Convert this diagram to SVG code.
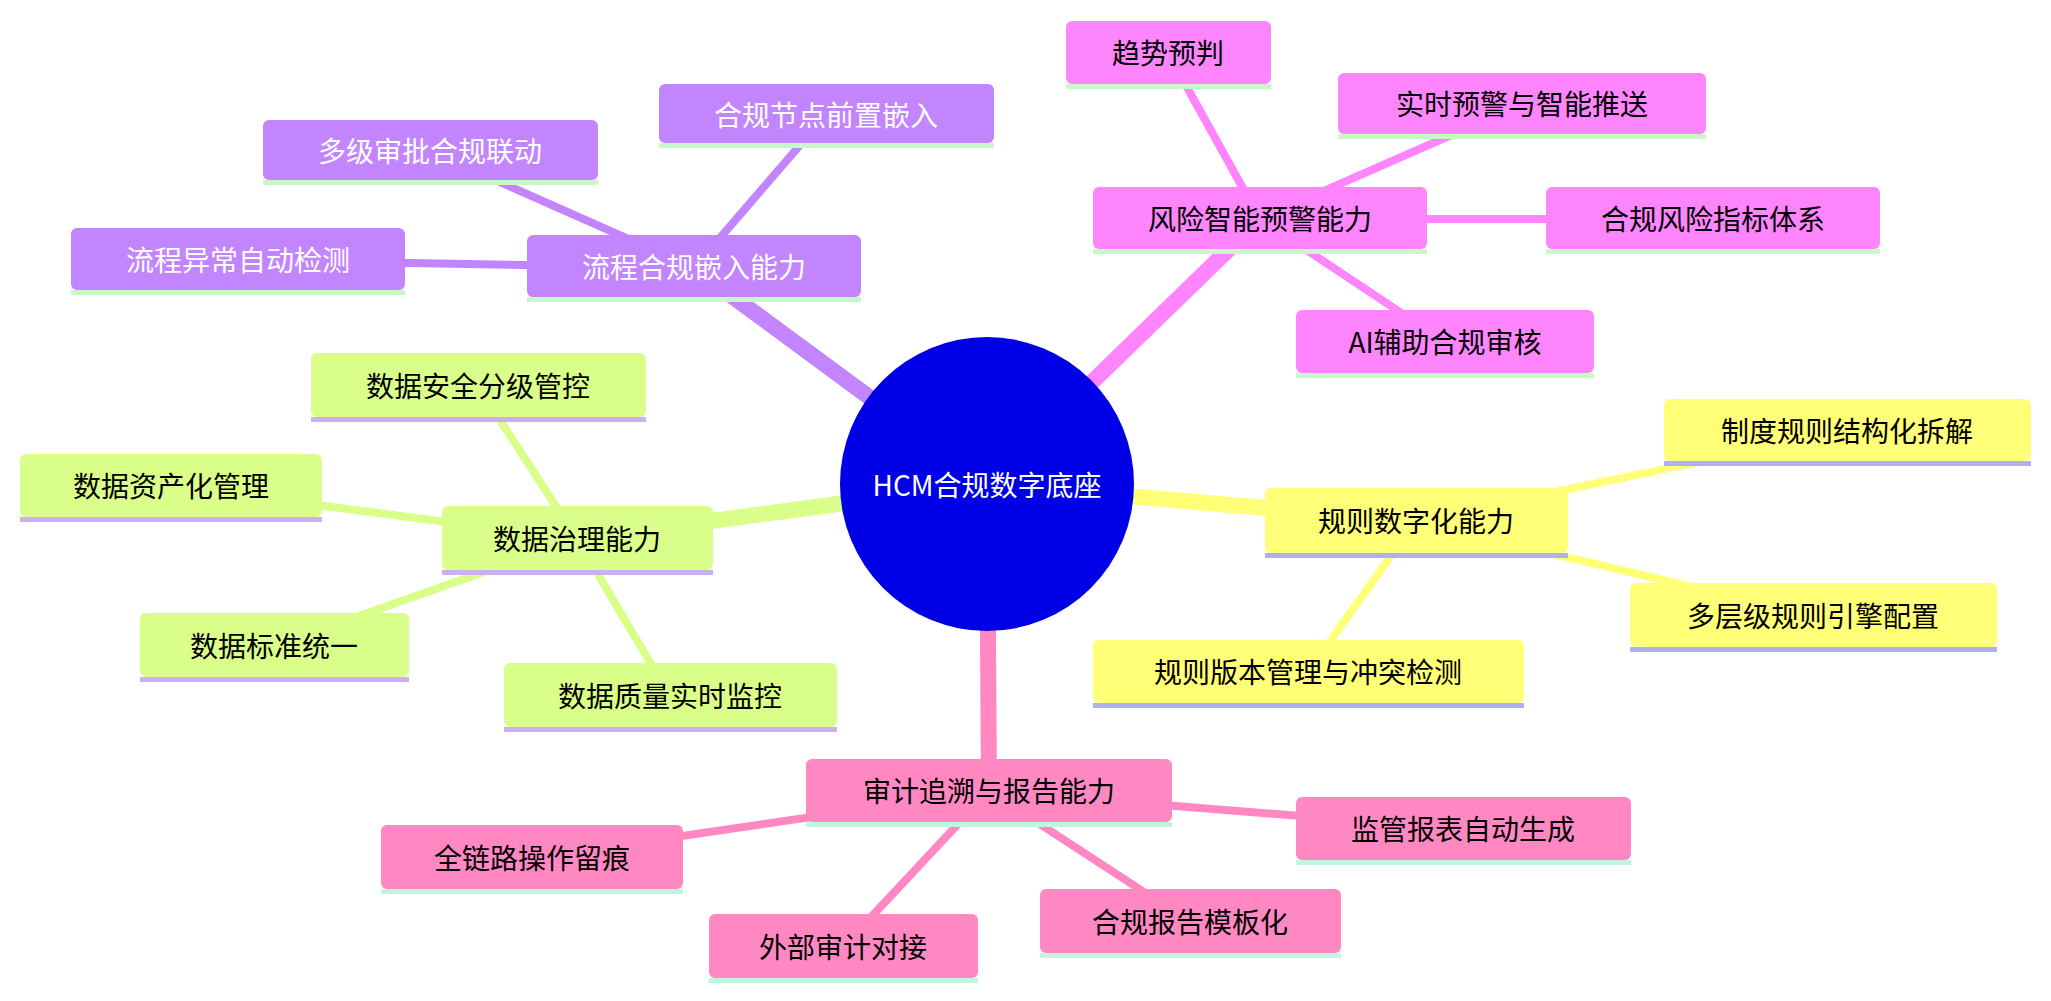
<svg xmlns="http://www.w3.org/2000/svg" width="2051" height="1001" viewBox="0 0 2051 1001">
<style>
text{font-family:"Noto Sans CJK SC","Noto Sans",sans-serif;font-size:28px;text-anchor:middle;dominant-baseline:central;fill:#000}
.s0 rect.b{fill:#c385fd}.s0 text{fill:#fff}.s0 rect.u{fill:#c8f8c8}
.s1 rect.b{fill:#ff85ff}.s1 rect.u{fill:#c8f8c8}
.s2 rect.b{fill:#ffff78}.s2 rect.u{fill:#b0b0f0}
.s3 rect.b{fill:#d9ff8a}.s3 rect.u{fill:#cbb0f0}
.s4 rect.b{fill:#ff88c3}.s4 rect.u{fill:#c0f5e0}
.e line{stroke-linecap:round}
</style>
<rect width="2051" height="1001" fill="#fff"/>
<g id="connectors" class="e">
<g stroke="#c385fd"><line x1="987" y1="484" x2="694" y2="268" stroke-width="16"/><line x1="694" y1="268" x2="826" y2="115" stroke-width="8"/><line x1="694" y1="268" x2="430" y2="151" stroke-width="8"/><line x1="694" y1="268" x2="238" y2="260" stroke-width="8"/></g>
<g stroke="#ff85ff"><line x1="987" y1="484" x2="1260" y2="219" stroke-width="16"/><line x1="1260" y1="219" x2="1168" y2="53" stroke-width="8"/><line x1="1260" y1="219" x2="1522" y2="104" stroke-width="8"/><line x1="1260" y1="219" x2="1713" y2="219" stroke-width="8"/><line x1="1260" y1="219" x2="1445" y2="342" stroke-width="8"/></g>
<g stroke="#ffff78"><line x1="987" y1="484" x2="1416" y2="521" stroke-width="16"/><line x1="1416" y1="521" x2="1847" y2="431" stroke-width="8"/><line x1="1416" y1="521" x2="1813" y2="616" stroke-width="8"/><line x1="1416" y1="521" x2="1308" y2="672" stroke-width="8"/></g>
<g stroke="#d9ff8a"><line x1="987" y1="484" x2="577" y2="539" stroke-width="16"/><line x1="577" y1="539" x2="478" y2="386" stroke-width="8"/><line x1="577" y1="539" x2="171" y2="486" stroke-width="8"/><line x1="577" y1="539" x2="274" y2="646" stroke-width="8"/><line x1="577" y1="539" x2="670" y2="696" stroke-width="8"/></g>
<g stroke="#ff88c3"><line x1="987" y1="484" x2="989" y2="791" stroke-width="16"/><line x1="989" y1="791" x2="532" y2="858" stroke-width="8"/><line x1="989" y1="791" x2="843" y2="947" stroke-width="8"/><line x1="989" y1="791" x2="1190" y2="922" stroke-width="8"/><line x1="989" y1="791" x2="1463" y2="829" stroke-width="8"/></g>
</g>
<g id="root"><circle cx="987" cy="484" r="147" fill="#0000e6"/><text x="987" y="484" style="fill:#fff">HCM合规数字底座</text></g>
<g id="n1" class="s0"><rect class="u" x="527" y="297" width="334" height="5"/><rect class="b" x="527" y="235" width="334" height="62" rx="6"/><text x="694" y="266">流程合规嵌入能力</text></g>
<g id="n1a" class="s0"><rect class="u" x="659" y="143" width="335" height="5"/><rect class="b" x="659" y="84" width="335" height="59" rx="6"/><text x="826" y="114">合规节点前置嵌入</text></g>
<g id="n1b" class="s0"><rect class="u" x="263" y="180" width="335" height="5"/><rect class="b" x="263" y="120" width="335" height="60" rx="6"/><text x="430" y="150">多级审批合规联动</text></g>
<g id="n1c" class="s0"><rect class="u" x="71" y="290" width="334" height="5"/><rect class="b" x="71" y="228" width="334" height="62" rx="6"/><text x="238" y="259">流程异常自动检测</text></g>
<g id="n2" class="s1"><rect class="u" x="1093" y="249" width="334" height="5"/><rect class="b" x="1093" y="187" width="334" height="62" rx="6"/><text x="1260" y="218">风险智能预警能力</text></g>
<g id="n2a" class="s1"><rect class="u" x="1066" y="84" width="205" height="5"/><rect class="b" x="1066" y="21" width="205" height="63" rx="6"/><text x="1168" y="52">趋势预判</text></g>
<g id="n2b" class="s1"><rect class="u" x="1338" y="134" width="368" height="5"/><rect class="b" x="1338" y="73" width="368" height="61" rx="6"/><text x="1522" y="103">实时预警与智能推送</text></g>
<g id="n2c" class="s1"><rect class="u" x="1546" y="249" width="334" height="5"/><rect class="b" x="1546" y="187" width="334" height="62" rx="6"/><text x="1713" y="218">合规风险指标体系</text></g>
<g id="n2d" class="s1"><rect class="u" x="1296" y="373" width="298" height="5"/><rect class="b" x="1296" y="310" width="298" height="63" rx="6"/><text x="1445" y="341">AI辅助合规审核</text></g>
<g id="n3" class="s2"><rect class="u" x="1265" y="553" width="303" height="5"/><rect class="b" x="1265" y="488" width="303" height="65" rx="6"/><text x="1416" y="520">规则数字化能力</text></g>
<g id="n3a" class="s2"><rect class="u" x="1664" y="461" width="367" height="5"/><rect class="b" x="1664" y="399" width="367" height="62" rx="6"/><text x="1847" y="430">制度规则结构化拆解</text></g>
<g id="n3b" class="s2"><rect class="u" x="1630" y="647" width="367" height="5"/><rect class="b" x="1630" y="583" width="367" height="64" rx="6"/><text x="1813" y="615">多层级规则引擎配置</text></g>
<g id="n3c" class="s2"><rect class="u" x="1093" y="703" width="431" height="5"/><rect class="b" x="1093" y="640" width="431" height="63" rx="6"/><text x="1308" y="671">规则版本管理与冲突检测</text></g>
<g id="n4" class="s3"><rect class="u" x="442" y="570" width="271" height="5"/><rect class="b" x="442" y="506" width="271" height="64" rx="6"/><text x="577" y="538">数据治理能力</text></g>
<g id="n4a" class="s3"><rect class="u" x="311" y="417" width="335" height="5"/><rect class="b" x="311" y="353" width="335" height="64" rx="6"/><text x="478" y="385">数据安全分级管控</text></g>
<g id="n4b" class="s3"><rect class="u" x="20" y="517" width="302" height="5"/><rect class="b" x="20" y="454" width="302" height="63" rx="6"/><text x="171" y="485">数据资产化管理</text></g>
<g id="n4c" class="s3"><rect class="u" x="140" y="677" width="269" height="5"/><rect class="b" x="140" y="613" width="269" height="64" rx="6"/><text x="274" y="645">数据标准统一</text></g>
<g id="n4d" class="s3"><rect class="u" x="504" y="727" width="333" height="5"/><rect class="b" x="504" y="663" width="333" height="64" rx="6"/><text x="670" y="695">数据质量实时监控</text></g>
<g id="n5" class="s4"><rect class="u" x="806" y="822" width="366" height="5"/><rect class="b" x="806" y="759" width="366" height="63" rx="6"/><text x="989" y="790">审计追溯与报告能力</text></g>
<g id="n5a" class="s4"><rect class="u" x="381" y="889" width="302" height="5"/><rect class="b" x="381" y="825" width="302" height="64" rx="6"/><text x="532" y="857">全链路操作留痕</text></g>
<g id="n5b" class="s4"><rect class="u" x="709" y="978" width="269" height="5"/><rect class="b" x="709" y="914" width="269" height="64" rx="6"/><text x="843" y="946">外部审计对接</text></g>
<g id="n5c" class="s4"><rect class="u" x="1040" y="953" width="301" height="5"/><rect class="b" x="1040" y="889" width="301" height="64" rx="6"/><text x="1190" y="921">合规报告模板化</text></g>
<g id="n5d" class="s4"><rect class="u" x="1296" y="860" width="335" height="5"/><rect class="b" x="1296" y="797" width="335" height="63" rx="6"/><text x="1463" y="828">监管报表自动生成</text></g>
</svg>
